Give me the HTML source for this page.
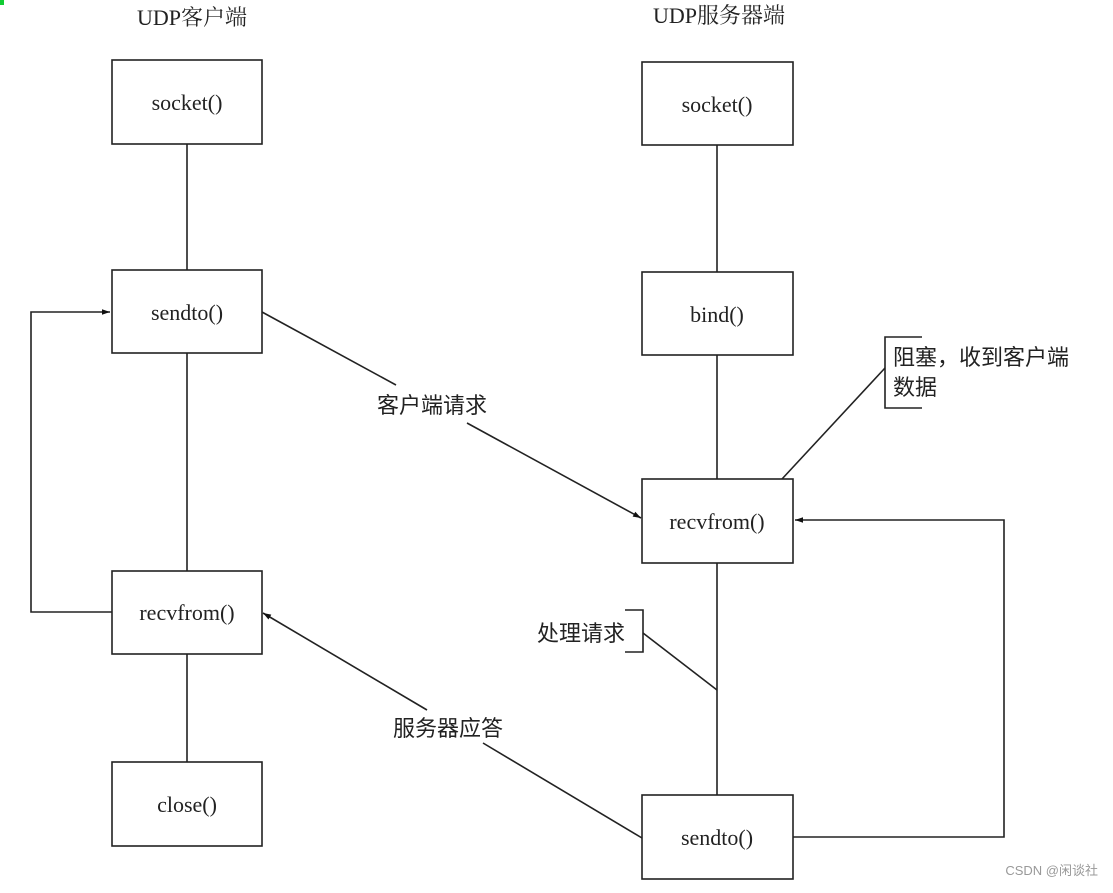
<!DOCTYPE html>
<html><head><meta charset="utf-8"><style>
body{margin:0;background:#fff;width:1113px;height:888px;overflow:hidden}
svg text{font-family:"Liberation Serif","Noto Serif CJK SC",serif;fill:#222}
.c{font-family:"Liberation Sans","Noto Sans CJK SC",sans-serif}
</style></head><body>
<svg width="1113" height="888" viewBox="0 0 1113 888" xmlns="http://www.w3.org/2000/svg">
<defs><marker id="a" viewBox="0 0 10 10" refX="10" refY="5" markerWidth="16" markerHeight="8" markerUnits="userSpaceOnUse" orient="auto"><path d="M0,1.5L10,5L0,8.5z" fill="#111"/></marker></defs>
<rect x="0" y="0" width="4" height="5" fill="#1c3"/>
<g stroke="#222" stroke-width="1.6" fill="none">
<rect x="112" y="60" width="150" height="84"/>
<rect x="112" y="270" width="150" height="83"/>
<rect x="112" y="571" width="150" height="83"/>
<rect x="112" y="762" width="150" height="84"/>
<rect x="642" y="62" width="151" height="83"/>
<rect x="642" y="272" width="151" height="83"/>
<rect x="642" y="479" width="151" height="84"/>
<rect x="642" y="795" width="151" height="84"/>
<line x1="187" y1="144" x2="187" y2="270"/>
<line x1="187" y1="353" x2="187" y2="571"/>
<line x1="187" y1="654" x2="187" y2="762"/>
<line x1="717" y1="145" x2="717" y2="272"/>
<line x1="717" y1="355" x2="717" y2="479"/>
<line x1="717" y1="563" x2="717" y2="795"/>
<polyline points="112,612 31,612 31,312 110,312" marker-end="url(#a)"/>
<polyline points="793,837 1004,837 1004,520 795,520" marker-end="url(#a)"/>
<line x1="262" y1="312" x2="396" y2="385"/>
<line x1="467" y1="423" x2="641" y2="518" marker-end="url(#a)"/>
<line x1="642" y1="838" x2="483" y2="743"/>
<line x1="427" y1="710" x2="263" y2="613" marker-end="url(#a)"/>
<polyline points="922,337 885,337 885,408 922,408"/>
<line x1="885" y1="368" x2="782" y2="479"/>
<polyline points="625,610 643,610 643,652 625,652"/>
<line x1="643" y1="633" x2="717" y2="690"/>
</g>
<g font-size="22" text-anchor="middle">
<text x="192" y="25">UDP客户端</text>
<text x="719" y="23">UDP服务器端</text>
<text x="187" y="110">socket()</text>
<text x="187" y="320">sendto()</text>
<text x="187" y="620">recvfrom()</text>
<text x="187" y="812">close()</text>
<text x="717" y="112">socket()</text>
<text x="717" y="322">bind()</text>
<text x="717" y="529">recvfrom()</text>
<text x="717" y="845">sendto()</text>
</g>
<g font-size="22" class="c">
<text class="c" x="377" y="413">客户端请求</text>
<text class="c" x="393" y="736">服务器应答</text>
<text class="c" x="893" y="365">阻塞，收到客户端</text>
<text class="c" x="893" y="395">数据</text>
<text class="c" x="537" y="641">处理请求</text>
</g>
<text class="c" x="1098" y="875" font-size="13" text-anchor="end" style="fill:#999">CSDN @闲谈社</text>
</svg>
</body></html>
